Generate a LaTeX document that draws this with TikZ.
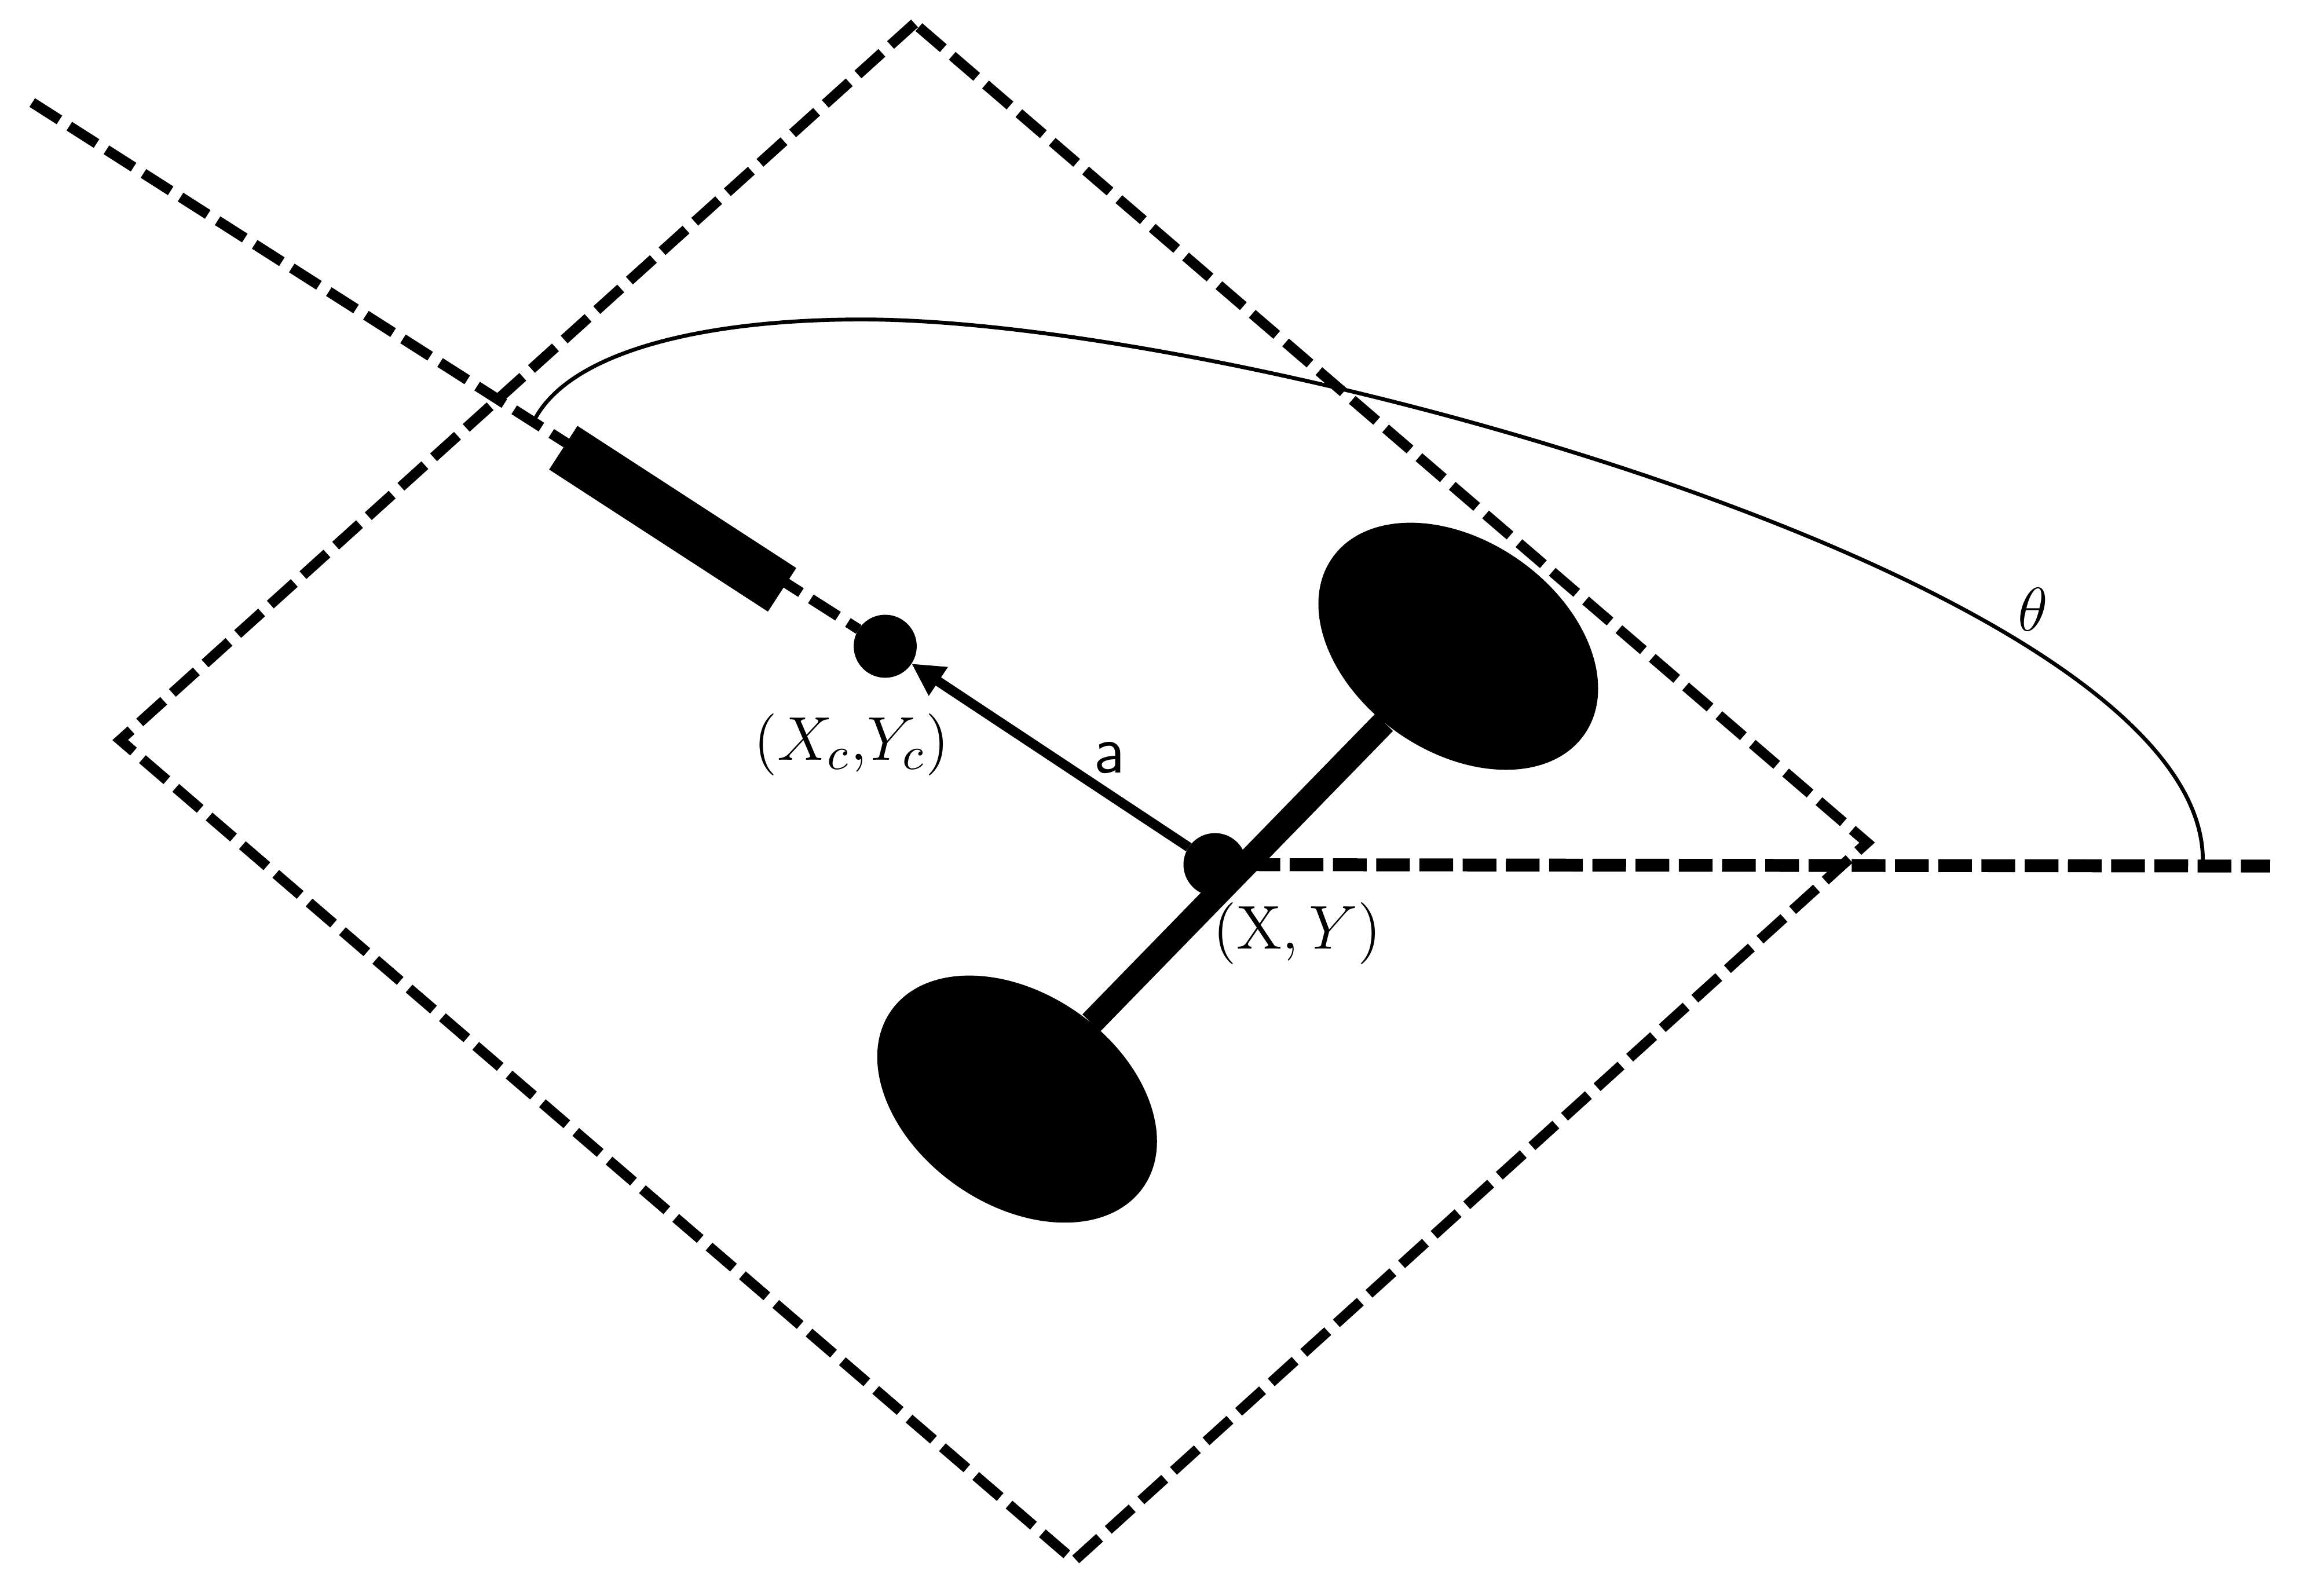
\documentclass[tikz,border=0pt]{standalone}
\usepackage{amsmath}
\usetikzlibrary{arrows.meta,shapes.geometric}

\begin{document}
\begin{tikzpicture}
[wheel/.style={ellipse,fill=black,inner sep=0pt,outer sep=0pt,minimum width=2.10cm,minimum height=1.44cm,rotate=-35}
,dot/.style={circle,fill=black,inner sep=0pt,outer sep=0pt,minimum size=0.43cm}
,caster/.style={rectangle,fill=black,inner sep=0pt,outer sep=0pt,minimum width=1.78cm,minimum height=0.355cm,rotate=-33}
,dl/.style={draw=black,line width=2pt,dash pattern=on 0.22cm off 0.08cm}
,hl/.style={dl,line width=2.5pt,dash pattern=on 0.23cm off 0.065cm}
,axle/.style={draw=black,line width=4.8pt}
,be/.style={draw=black,line width=1.9pt,arrows={-Stealth[length=0.22cm,width=0.22cm,inset=0pt]}}
,arcl/.style={draw=black,line width=0.75pt}
,lab/.style={inner sep=0pt,font=\fontsize{13}{15}\selectfont}]
\useasboundingbox (0,0) rectangle (15.68,10.89);
\coordinate (rt) at (6.24,10.73);
\coordinate (rl) at (0.82,5.84);
\coordinate (rb) at (7.33,0.24);
\coordinate (rr) at (12.74,5.14);
\coordinate (far) at (0.22,10.19);
\coordinate (hend) at (15.49,4.98);
\coordinate (as) at (3.63,7.99);
\coordinate (ap) at (5.88,8.71);
\coordinate (ae) at (15.03,4.99);
\node[wheel] (wu) at (9.95,6.48) {};
\node[wheel] (wl) at (6.94,3.39) {};
\node[dot] (cen) at (6.04,6.48) {};
\node[dot] (hub) at (8.29,4.99) {};
\node[caster] (cas) at (4.59,7.35) {};
\node[lab,font=\fontsize{12.5}{15}\selectfont] (lc) at (5.81,5.81) {$(X_c{,}Y_c)$};
\node[lab] (lh) at (8.85,4.52) {$(\mathrm{X},Y)$};
\node[lab] (la) at (7.57,5.72) {\textsf{a}};
\node[lab] (lt) at (13.87,6.73) {$\theta$};
\draw[dl] (rt) -- (rl) -- (rb) -- (rr) -- cycle;
\draw[dl] (far) -- (cen);
\draw[hl] (hub) -- (hend);
\draw[axle] (wl) -- (wu);
\draw[be] (hub) -- (cen);
\draw[arcl] (as) .. controls (3.85,8.49) and (4.80,8.71) .. (ap)
  .. controls (8.50,8.71) and (15.10,6.89) .. (ae);
\end{tikzpicture}
\end{document}
